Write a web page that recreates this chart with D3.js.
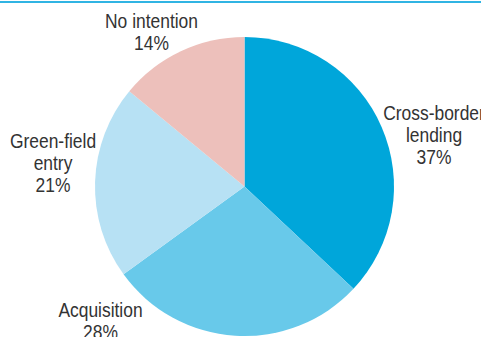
<!DOCTYPE html>
<html>
<head>
<meta charset="utf-8">
<script src="https://cdn.jsdelivr.net/npm/d3@7"></script>
<style>
  html, body { margin: 0; padding: 0; background: #fff; }
  svg { display: block; }
  .lbl { font-family: "Liberation Sans", Arial, sans-serif; font-size: 21px; fill: #333; }
</style>
</head>
<body>
<script>
// Share of respondents by planned mode of entry
const categories = ["Cross-border lending", "Acquisition", "Green-field entry", "No intention"];
const shares = [37, 28, 21, 14];
const colors = ["#00a6da", "#68c9ea", "#b7e1f4", "#edc0bb"];
// Label lines for each slice (category words, then percentage)
const labelLines = [["Cross-border", "lending"], ["Acquisition"], ["Green-field", "entry"], ["No intention"]];

const W = 481, H = 337;
const cx = 244.5, cy = 186.5, R = 149.5;
const narrow = 0.83;   // condensed look for the labels
const lineH = 22;

const svg = d3.select("body").append("svg").attr("width", W).attr("height", H);

// thin rule across the top
svg.append("line").attr("x1", 0).attr("x2", W).attr("y1", 2).attr("y2", 2)
  .attr("stroke", "#30b4e3").attr("stroke-width", 2);

const pie = d3.pie().sort(null).value(d => d.value);
const arcs = pie(categories.map((c, i) => ({ name: c, value: shares[i], color: colors[i], lines: labelLines[i] })));
const arc = d3.arc().innerRadius(0).outerRadius(R);

const g = svg.append("g").attr("transform", `translate(${cx},${cy})`);
g.selectAll("path").data(arcs).join("path")
  .attr("d", arc)
  .attr("fill", d => d.data.color);

// label centre x and first baseline, in page pixels
const labelPos = [[434, 120], [100.5, 317], [53, 148], [151.5, 28]];

arcs.forEach((d, i) => {
  const [px, py] = labelPos[i];
  const t = svg.append("text").attr("class", "lbl").attr("text-anchor", "middle")
    .attr("transform", `translate(${px},${py}) scale(${narrow},1)`);
  const lines = d.data.lines.concat([d3.format(".0f")(d.data.value) + "%"]);
  lines.forEach((ln, k) => {
    t.append("tspan").attr("x", 0).attr("y", k * lineH).text(ln);
  });
});
</script>
</body>
</html>
